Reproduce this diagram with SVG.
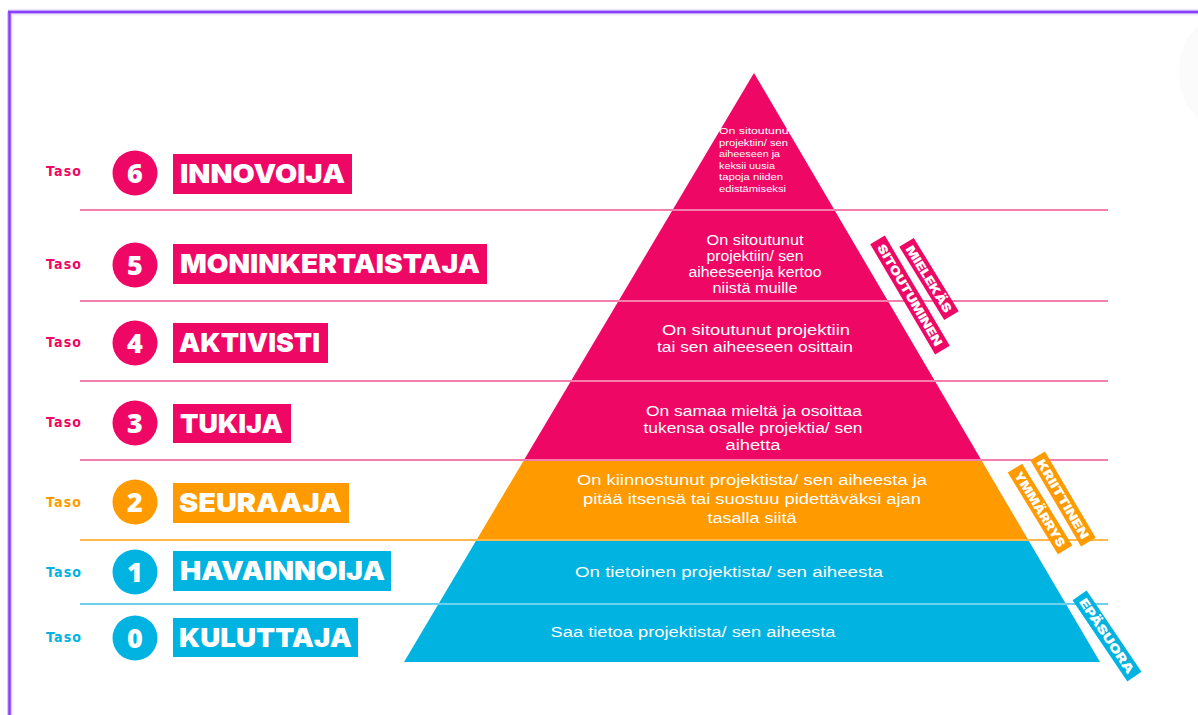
<svg xmlns="http://www.w3.org/2000/svg" width="1198" height="715" viewBox="0 0 1198 715">
<style>
.desc{font-family:"Liberation Sans","Open Sans",sans-serif;font-size:14px;fill:#fff;text-anchor:middle}
.small{font-family:"Liberation Sans","Open Sans",sans-serif;font-size:9.8px;fill:#fff}
.lbl{font-family:"Inter","Open Sans",sans-serif;font-weight:900;font-size:26px;fill:#fff}
.num{font-family:"Open Sans","Noto Sans",sans-serif;font-weight:800;font-size:27px;fill:#fff;text-anchor:middle}
.taso{font-family:"DejaVu Sans Condensed","DejaVu Sans",sans-serif;font-weight:bold;font-size:14px}
.rot{font-family:"Inter","Open Sans",sans-serif;font-weight:900;font-size:12px;fill:#fff;text-anchor:middle}
.pk{fill:#EF0765}.or{fill:#FF9A00}.cy{fill:#00B3E0}
.lpk{stroke:#F57FAC;stroke-width:2}.lor{stroke:#FFB84D;stroke-width:2}.lcy{stroke:#6DD1EE;stroke-width:2}
</style>
<rect width="1198" height="715" fill="#fff"/>
<ellipse cx="1215" cy="72" rx="36" ry="52" fill="#fbfbfb"/>
<g id="frame">
<line x1="8" y1="12" x2="1198" y2="12" stroke="#D9C8FF" stroke-width="5"/>
<line x1="9.5" y1="12" x2="9.5" y2="715" stroke="#D9C8FF" stroke-width="5"/>
<line x1="8" y1="12" x2="1198" y2="12" stroke="#8A3FFC" stroke-width="2.5"/>
<line x1="9.5" y1="12" x2="9.5" y2="715" stroke="#8A3FFC" stroke-width="2.5"/>
<line x1="13" y1="15" x2="1198" y2="15" stroke="#eeeeee" stroke-width="1"/>
<line x1="13" y1="15" x2="13" y2="715" stroke="#eeeeee" stroke-width="1"/>
</g>
<g id="pyramid">
<polygon class="pk" points="754,73 981.3,460 524,460"/>
<polygon class="or" points="524,460 981.3,460 1028.3,540 476.5,540"/>
<polygon class="cy" points="476.5,540 1028.3,540 1100,662 404,662"/>
</g>
<g id="connectors">
<line class="lpk" x1="80" y1="210" x2="1108" y2="210"/>
<line class="lpk" x1="80" y1="301" x2="1108" y2="301"/>
<line class="lpk" x1="80" y1="381" x2="1108" y2="381"/>
<line class="lpk" x1="80" y1="460" x2="1108" y2="460"/>
<line class="lor" x1="80" y1="540" x2="1108" y2="540"/>
<line class="lcy" x1="80" y1="604" x2="1108" y2="604"/>
</g>
<g id="desc6">
<text class="small" x="719" y="134" textLength="73" lengthAdjust="spacingAndGlyphs">On sitoutunut</text>
<text class="small" x="719" y="145.5" textLength="69" lengthAdjust="spacingAndGlyphs">projektiin/ sen</text>
<text class="small" x="719" y="157" textLength="61" lengthAdjust="spacingAndGlyphs">aiheeseen ja</text>
<text class="small" x="719" y="168.5" textLength="56" lengthAdjust="spacingAndGlyphs">keksii uusia</text>
<text class="small" x="719" y="180" textLength="64" lengthAdjust="spacingAndGlyphs">tapoja niiden</text>
<text class="small" x="719" y="191.5" textLength="67" lengthAdjust="spacingAndGlyphs">edistämiseksi</text>
</g>
<g id="desc5">
<text class="desc" x="755" y="245" textLength="97" lengthAdjust="spacingAndGlyphs">On sitoutunut</text>
<text class="desc" x="755" y="261" textLength="97" lengthAdjust="spacingAndGlyphs">projektiin/ sen</text>
<text class="desc" x="755" y="277" textLength="133" lengthAdjust="spacingAndGlyphs">aiheeseenja kertoo</text>
<text class="desc" x="755" y="293" textLength="85" lengthAdjust="spacingAndGlyphs">niistä muille</text>
</g>
<g id="desc4">
<text class="desc" x="756" y="335" textLength="188" lengthAdjust="spacingAndGlyphs">On sitoutunut projektiin</text>
<text class="desc" x="755" y="352" textLength="196" lengthAdjust="spacingAndGlyphs">tai sen aiheeseen osittain</text>
</g>
<g id="desc3">
<text class="desc" x="754" y="416" textLength="216" lengthAdjust="spacingAndGlyphs">On samaa mieltä ja osoittaa</text>
<text class="desc" x="753" y="433" textLength="219" lengthAdjust="spacingAndGlyphs">tukensa osalle projektia/ sen</text>
<text class="desc" x="753" y="450" textLength="55" lengthAdjust="spacingAndGlyphs">aihetta</text>
</g>
<g id="desc2">
<text class="desc" x="752" y="485" textLength="350" lengthAdjust="spacingAndGlyphs">On kiinnostunut projektista/ sen aiheesta ja</text>
<text class="desc" x="752" y="504" textLength="338" lengthAdjust="spacingAndGlyphs">pitää itsensä tai suostuu pidettäväksi ajan</text>
<text class="desc" x="752" y="523" textLength="89" lengthAdjust="spacingAndGlyphs">tasalla siitä</text>
</g>
<g id="desc1">
<text class="desc" x="729" y="577" textLength="308" lengthAdjust="spacingAndGlyphs">On tietoinen projektista/ sen aiheesta</text>
</g>
<g id="desc0">
<text class="desc" x="693" y="637" textLength="285" lengthAdjust="spacingAndGlyphs">Saa tietoa projektista/ sen aiheesta</text>
</g>
<g id="level6">
<text class="taso" x="46" y="176" fill="#EF0765" textLength="35">Taso</text>
<circle class="pk" cx="135" cy="173" r="22.5"/>
<text class="num" x="135" y="182.5">6</text>
<rect class="pk" x="173" y="154" width="179" height="40"/>
<text class="lbl" x="180" y="183" textLength="165" lengthAdjust="spacingAndGlyphs">INNOVOIJA</text>
</g>
<g id="level5">
<text class="taso" x="46" y="269" fill="#EF0765" textLength="35">Taso</text>
<circle class="pk" cx="135" cy="265" r="22.5"/>
<text class="num" x="135" y="274.5">5</text>
<rect class="pk" x="173" y="244" width="314" height="40"/>
<text class="lbl" x="180" y="273" textLength="300" lengthAdjust="spacingAndGlyphs">MONINKERTAISTAJA</text>
</g>
<g id="level4">
<text class="taso" x="46" y="347" fill="#EF0765" textLength="35">Taso</text>
<circle class="pk" cx="135" cy="343" r="22.5"/>
<text class="num" x="135" y="352.5">4</text>
<rect class="pk" x="173" y="323" width="155" height="40"/>
<text class="lbl" x="179" y="352" textLength="141" lengthAdjust="spacingAndGlyphs">AKTIVISTI</text>
</g>
<g id="level3">
<text class="taso" x="46" y="427" fill="#EF0765" textLength="35">Taso</text>
<circle class="pk" cx="135" cy="423" r="22.5"/>
<text class="num" x="135" y="432.5">3</text>
<rect class="pk" x="173" y="404" width="118" height="39"/>
<text class="lbl" x="180" y="432.5" textLength="103" lengthAdjust="spacingAndGlyphs">TUKIJA</text>
</g>
<g id="level2">
<text class="taso" x="46" y="507" fill="#FF9A00" textLength="35">Taso</text>
<circle class="or" cx="135" cy="502" r="22.5"/>
<text class="num" x="135" y="511.5">2</text>
<rect class="or" x="173" y="483" width="176" height="40"/>
<text class="lbl" x="179" y="512" textLength="163" lengthAdjust="spacingAndGlyphs">SEURAAJA</text>
</g>
<g id="level1">
<text class="taso" x="46" y="577" fill="#00B3E0" textLength="35">Taso</text>
<circle class="cy" cx="135" cy="572" r="22.5"/>
<text class="num" x="135" y="581.5">1</text>
<rect class="cy" x="173" y="551" width="218" height="40"/>
<text class="lbl" x="180" y="580" textLength="205" lengthAdjust="spacingAndGlyphs">HAVAINNOIJA</text>
</g>
<g id="level0">
<text class="taso" x="46" y="642" fill="#00B3E0" textLength="35">Taso</text>
<circle class="cy" cx="135" cy="638" r="22.5"/>
<text class="num" x="135" y="647.5">0</text>
<rect class="cy" x="173" y="618" width="185" height="39"/>
<text class="lbl" x="179" y="646.5" textLength="173" lengthAdjust="spacingAndGlyphs">KULUTTAJA</text>
</g>
<g id="tag-mielekas" transform="translate(929,279) rotate(58.5)">
<rect class="pk" x="-43" y="-8.5" width="86" height="17"/>
<text class="rot" x="0" y="4.5" textLength="76" lengthAdjust="spacingAndGlyphs">MIELEKÄS</text>
</g>
<g id="tag-sitoutuminen" transform="translate(910,295) rotate(59.5)">
<rect class="pk" x="-64" y="-8.5" width="128" height="17"/>
<text class="rot" x="0" y="4.5" textLength="116" lengthAdjust="spacingAndGlyphs">SITOUTUMINEN</text>
</g>
<g id="tag-kriittinen" transform="translate(1063,499) rotate(59.5)">
<rect class="or" x="-50" y="-8.5" width="100" height="17"/>
<text class="rot" x="0" y="4.5" textLength="90" lengthAdjust="spacingAndGlyphs">KRIITTINEN</text>
</g>
<g id="tag-ymmarrys" transform="translate(1040,509) rotate(58.5)">
<rect class="or" x="-48" y="-8.5" width="96" height="17"/>
<text class="rot" x="0" y="4.5" textLength="86" lengthAdjust="spacingAndGlyphs">YMMÄRRYS</text>
</g>
<g id="tag-epasuora" transform="translate(1107,636) rotate(56)">
<rect class="cy" x="-49" y="-8.5" width="98" height="17"/>
<text class="rot" x="0" y="4.5" textLength="88" lengthAdjust="spacingAndGlyphs">EPÄSUORA</text>
</g>
</svg>
